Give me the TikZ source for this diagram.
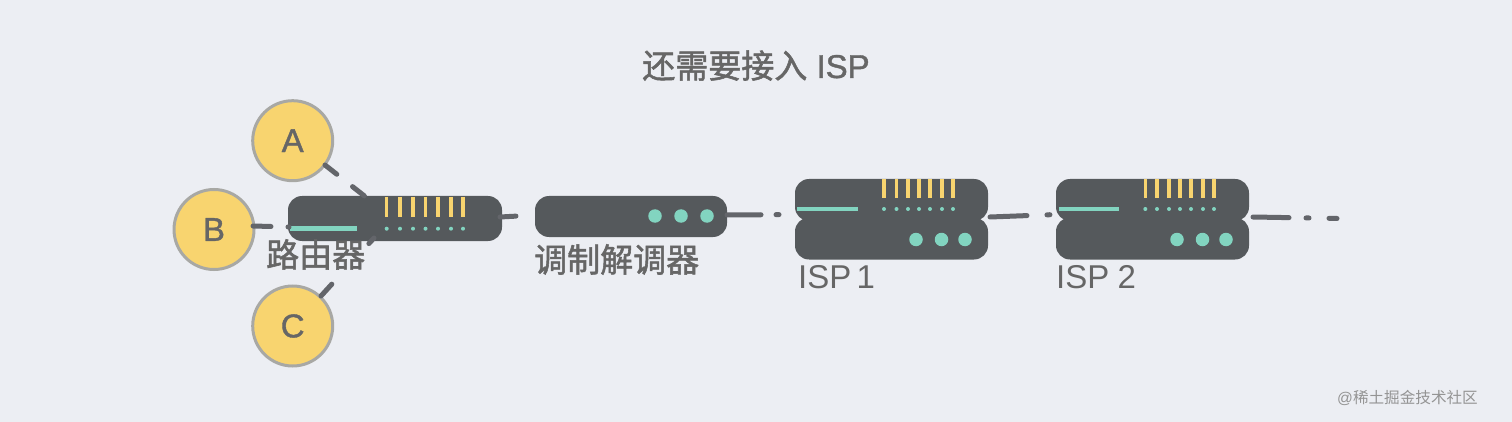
\documentclass[tikz,border=0pt]{standalone}
\usepackage{fontspec}
\setmainfont{Liberation Sans}
\newfontfamily\cjk[FakeBold=1.6]{Noto Sans CJK SC}
\newfontfamily\latb[FakeBold=1.2]{Liberation Sans}
\newfontfamily\cjkw{Noto Sans CJK SC}
\definecolor{bgc}{HTML}{ECEEF3}
\definecolor{dev}{HTML}{55595C}
\definecolor{wire}{HTML}{63656A}
\definecolor{txt}{HTML}{666666}
\definecolor{yel}{HTML}{F8D46F}
\definecolor{rim}{HTML}{A8A8A4}
\definecolor{teal}{HTML}{82D4C0}
\tikzset{
  x=1pt,y=-1pt,
  host/.style={circle,draw=rim,line width=3pt,fill=yel,minimum size=80pt,inner sep=0pt,text=txt,font=\fontsize{33}{33}\selectfont\latb},
  device/.style={fill=dev,rounded corners=14pt,inner sep=0pt,minimum width=#1},
  lbl/.style={inner sep=0pt,text=txt,anchor=base west,font=\fontsize{33}{33}\selectfont},
  wirel/.style={draw=wire,line width=5pt,line cap=round},
  ybar/.style={draw=yel,line width=3.5pt},
  tbar/.style={draw=teal,line width=4.5pt},
  tdot/.style={fill=teal,circle,minimum size=4pt,inner sep=0pt},
  tled/.style={fill=teal,circle,minimum size=13.5pt,inner sep=0pt}
}
\newcommand{\panel}[4]{% bars x list, y top, y bottom, dot y
  \foreach \bx in {#1} {
    \draw[ybar] (\bx,#2) -- (\bx,#3);
    \node[tdot] at (\bx,#4) {};
  }
}
\begin{document}
\begin{tikzpicture}
\useasboundingbox[fill=bgc] (0,0) rectangle (1512,422);
% devices
\node[device=214pt,minimum height=45pt] (router) at (395,218.5) {};
\node[device=192pt,minimum height=41pt] (modem) at (631,216.5) {};
\node[device=193pt,minimum height=42pt] (isp1top) at (891.5,200) {};
\node[device=193pt,minimum height=42pt] (isp1bot) at (891.5,238.5) {};
\node[device=193pt,minimum height=42pt] (isp2top) at (1152.5,200) {};
\node[device=193pt,minimum height=42pt] (isp2bot) at (1152.5,238.5) {};
% hosts
\node[host] (a) at (292.7,140.7) {A};
\node[host] (b) at (214,229.5) {B};
\node[host] (c) at (292.7,326) {C};
% device details
\panel{386.7,400,413,425.5,438,451,463}{197}{217}{228.7}
\draw[tbar] (290,228.6) -- (357,228.6);
\foreach \lx in {655,681,707} \node[tled] at (\lx,216) {};
\panel{884,896.5,908,919,930,942,953}{179}{198}{209}
\draw[tbar] (797,209) -- (858,209);
\foreach \lx in {916,941.5,965} \node[tled] at (\lx,239.5) {};
\panel{1145.3,1157,1169,1180,1191,1203,1214}{179}{198}{209}
\draw[tbar] (1059,209) -- (1119,209);
\foreach \lx in {1177,1202.5,1226} \node[tled] at (\lx,239.5) {};
% connector ends
\coordinate (ao) at (325,165);
\coordinate (ra) at (367,198);
\coordinate (bo) at (253,226);
\coordinate (rb) at (289,227);
\coordinate (co) at (321,296);
\coordinate (rc) at (374,238);
\coordinate (rm) at (500,217);
\coordinate (mr) at (537,215);
\coordinate (mi) at (727,215);
\coordinate (im) at (795,214.5);
\coordinate (ii) at (990,217);
\coordinate (ij) at (1056,214.5);
\coordinate (jo) at (1253,217);
\coordinate (out) at (1338,218.5);
% connectors
\draw[wirel,dash pattern=on 15pt off 20pt] (ao) -- (ra);
\draw[wirel,dash pattern=on 18pt off 17pt] (bo) -- (rb);
\draw[wirel,dash pattern=on 16pt off 55pt on 8pt off 20pt] (co) -- (rc);
\draw[wirel,dash pattern=on 16pt off 30pt] (rm) -- (mr);
\draw[wirel,dash pattern=on 34pt off 15pt on 3pt off 40pt] (mi) -- (im);
\draw[wirel,dash pattern=on 37pt off 20pt on 3pt off 40pt] (ii) -- (ij);
\draw[wirel,dash pattern=on 36pt off 17pt on 3pt off 20pt on 8pt off 20pt] (jo) -- (out);
% labels
\node[lbl,anchor=base] (title) at (756,78) {{\cjk 还需要接入} {\latb ISP}};
\node[lbl] (lrouter) at (266,267) {\cjk 路由器};
\node[lbl] (lmodem) at (534,272) {\cjk 调制解调器};
\node[lbl] (lisp1) at (798,288) {ISP\hspace{-4pt} 1};
\node[lbl] (lisp2) at (1056,288) {ISP\hspace{-1pt} 2};
\node[inner sep=0pt,anchor=base east,text=black!42,font=\fontsize{15.6}{15.6}\selectfont] (mark) at (1478,403) {@{\cjkw 稀土掘金技术社区}};
\end{tikzpicture}
\end{document}
